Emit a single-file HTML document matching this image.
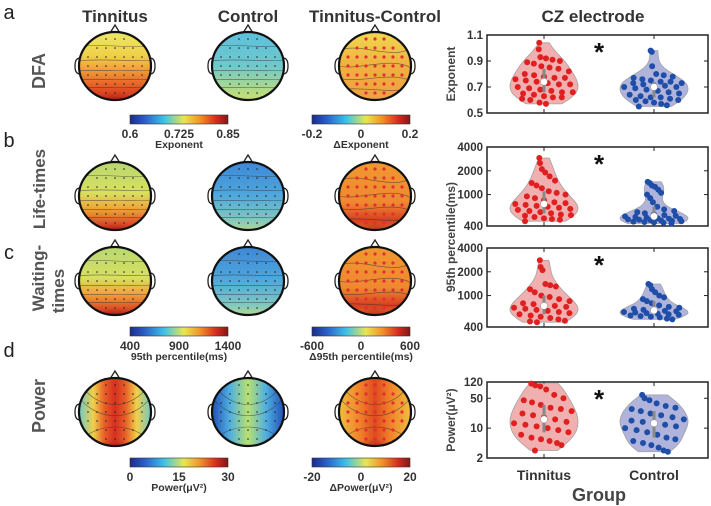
<!DOCTYPE html>
<html><head><meta charset="utf-8"><style>
body{margin:0;background:#fff;}
svg{display:block;font-family:"Liberation Sans",sans-serif;}
</style></head><body>
<svg id="fig" width="711" height="506" viewBox="0 0 711 506">
<defs>
<linearGradient id="cmap" x1="0" x2="1" y1="0" y2="0">
<stop offset="0" stop-color="#1c2a8a"/><stop offset="0.15" stop-color="#2a5fc8"/><stop offset="0.35" stop-color="#3ec2e8"/><stop offset="0.55" stop-color="#e8e650"/><stop offset="0.72" stop-color="#f09028"/><stop offset="0.88" stop-color="#d82a1e"/><stop offset="1" stop-color="#801818"/>
</linearGradient>
<linearGradient id="gAT" x1="0" y1="0" x2="0" y2="1"><stop offset="0" stop-color="#ece868"/><stop offset="0.35" stop-color="#f0d048"/><stop offset="0.55" stop-color="#f0a038"/><stop offset="0.75" stop-color="#e86828"/><stop offset="1" stop-color="#d02a1e"/></linearGradient>
<linearGradient id="gAC" x1="0" y1="0" x2="0" y2="1"><stop offset="0" stop-color="#5cc0dc"/><stop offset="0.5" stop-color="#70c8cc"/><stop offset="0.8" stop-color="#a8d890"/><stop offset="1" stop-color="#c8e070"/></linearGradient>
<linearGradient id="gAD" x1="0" y1="0" x2="0" y2="1"><stop offset="0" stop-color="#f0d850"/><stop offset="0.5" stop-color="#f0b040"/><stop offset="1" stop-color="#f0a040"/></linearGradient>
<linearGradient id="gBT" x1="0" y1="0" x2="0" y2="1"><stop offset="0" stop-color="#b8d870"/><stop offset="0.45" stop-color="#d8e060"/><stop offset="0.7" stop-color="#f0a038"/><stop offset="1" stop-color="#d02a1e"/></linearGradient>
<linearGradient id="gBC" x1="0" y1="0" x2="0" y2="1"><stop offset="0" stop-color="#3c88d8"/><stop offset="0.5" stop-color="#50a8dc"/><stop offset="0.85" stop-color="#80c8c0"/><stop offset="1" stop-color="#b0d890"/></linearGradient>
<linearGradient id="gBD" x1="0" y1="0" x2="0" y2="1"><stop offset="0" stop-color="#f09830"/><stop offset="0.6" stop-color="#f08830"/><stop offset="0.85" stop-color="#d84020"/><stop offset="1" stop-color="#e06028"/></linearGradient>
<linearGradient id="gDT" x1="0" y1="0" x2="1" y2="0"><stop offset="0" stop-color="#70c8c8"/><stop offset="0.2" stop-color="#f0d048"/><stop offset="0.35" stop-color="#e86028"/><stop offset="0.5" stop-color="#d43020"/><stop offset="0.65" stop-color="#e86028"/><stop offset="0.8" stop-color="#f0d048"/><stop offset="1" stop-color="#70c8c8"/></linearGradient>
<linearGradient id="gDC" x1="0" y1="0" x2="1" y2="0"><stop offset="0" stop-color="#2050b8"/><stop offset="0.25" stop-color="#50b0e0"/><stop offset="0.5" stop-color="#b8e070"/><stop offset="0.75" stop-color="#50b0e0"/><stop offset="1" stop-color="#2050b8"/></linearGradient>
<linearGradient id="gDD" x1="0" y1="0" x2="1" y2="0"><stop offset="0" stop-color="#f0c040"/><stop offset="0.3" stop-color="#f08028"/><stop offset="0.5" stop-color="#e04820"/><stop offset="0.7" stop-color="#f08028"/><stop offset="1" stop-color="#f0c040"/></linearGradient>
<radialGradient id="hotBottom" cx="0.5" cy="0.9" r="0.35"><stop offset="0" stop-color="#a01818" stop-opacity="0.6"/><stop offset="1" stop-color="#a01818" stop-opacity="0"/></radialGradient>
</defs>
<g id="topos"></g>
<g id="violins"></g>
</svg>
<script>
// ---- violin data ----
const groups = ["Tinnitus", "Control"];
const dfaTinnitus = [1.04,0.99,0.93,0.92,0.91,0.90,0.89,0.88,0.86,0.85,0.84,0.82,0.80,0.79,0.78,0.77,0.77,0.76,0.75,0.74,0.73,0.72,0.72,0.70,0.69,0.68,0.67,0.66,0.66,0.65,0.64,0.63,0.62,0.62,0.61,0.60,0.58,0.57];
const dfaControl = [0.98,0.97,0.86,0.80,0.79,0.78,0.77,0.76,0.75,0.74,0.74,0.73,0.73,0.72,0.71,0.71,0.70,0.70,0.69,0.68,0.67,0.66,0.65,0.64,0.63,0.62,0.62,0.61,0.60,0.60,0.59,0.58,0.57,0.56,0.55];
const lifeTinnitus = [2900,2500,2100,1900,1700,1500,1400,1300,1200,1100,1050,1000,950,900,850,800,780,760,740,720,700,680,660,640,620,600,580,560,550,540,520,500,490,480,460];
const lifeControl = [1450,1400,1300,1250,1150,1050,1000,900,800,700,650,620,600,580,560,550,540,530,520,510,500,495,490,485,480,475,470,465,460,455,450,445,440,430];
const waitTinnitus = [2800,2300,2100,1400,1350,1300,1200,1100,1000,960,900,850,800,780,760,740,720,700,680,660,640,620,600,580,560,540,520,500,480,470,460];
const waitControl = [1400,1350,1200,1100,1000,950,900,850,800,750,720,700,680,660,650,640,630,620,610,600,590,580,570,560,550,540,530,510,500];
const powTinnitus = [110,100,95,80,60,50,45,40,35,30,28,25,22,20,18,16,14,13,12,11,10,9,8,7,6,5.5,5,4.5,4,3];
const powControl = [60,50,45,38,33,30,28,25,22,20,18,16,15,14,13,12,11,10,9,8,7,6,5.5,5,4.5,4,3.5,3,2.8];
const ticks1 = [0.5,0.7,0.9,1.1];
const ticks2 = [400,1000,2000,4000];
const ticks4 = [2,10,50,120];

const NS="http://www.w3.org/2000/svg";
function mk(tag, attrs, parent, text){
  const e=document.createElementNS(NS,tag);
  for(const k in attrs) e.setAttribute(k,attrs[k]);
  if(text!==undefined) e.textContent=text;
  parent.appendChild(e); return e;
}
const svg=document.getElementById('fig');
const T=document.getElementById('topos');
const V=document.getElementById('violins');

function label(x,y,txt,size,name,opts){
  const t=mk('text',Object.assign({x:x,y:y,'font-size':size,'text-anchor':'middle',fill:'#333','font-weight':'bold'},opts||{}),svg,txt);
  
  
  return t;
}
label(115,22,"Tinnitus",17,'col-title-tinnitus');
label(248,22,"Control",17,'col-title-control');
label(375,22,"Tinnitus-Control",17,'col-title-diff');
label(593,22,"CZ electrode",17,'col-title-cz');
label(9,19,"a",20,'panel-a-label',{'font-weight':'normal',fill:'#222'});
label(9,147,"b",20,'panel-b-label',{'font-weight':'normal',fill:'#222'});
label(9,259,"c",20,'panel-c-label',{'font-weight':'normal',fill:'#222'});
label(9,357,"d",20,'panel-d-label',{'font-weight':'normal',fill:'#222'});
label(45,71,"DFA",18,'row-label-dfa',{transform:'rotate(-90 45 71)',fill:'#555'});
label(45,189,"Life-times",17,'row-label-lifetimes',{transform:'rotate(-90 45 189)',fill:'#555'});
label(44,278,"Waiting-",17,'row-label-waiting',{transform:'rotate(-90 44 278)',fill:'#555'});
label(64,291,"times",17,'row-label-times',{transform:'rotate(-90 64 291)',fill:'#555'});
label(45,406,"Power",18,'row-label-power',{transform:'rotate(-90 45 406)',fill:'#555'});

let clipId=0;
function topo(cx,cy,grad,name,redDots,hot,contours){
  const g=mk('g',{},T);
  
  
  const rx=36, ry=34;
  mk('path',{d:`M${cx-rx+1} ${cy-8} q-5 0 -5 8 q0 8 5 8`,fill:'none',stroke:'#222','stroke-width':1.3},g);
  mk('path',{d:`M${cx+rx-1} ${cy-8} q5 0 5 8 q0 8 -5 8`,fill:'none',stroke:'#222','stroke-width':1.3},g);
  mk('path',{d:`M${cx-5} ${cy-ry+1} L${cx} ${cy-ry-7} L${cx+5} ${cy-ry+1}`,fill:'none',stroke:'#222','stroke-width':1.3},g);
  const id='c'+(clipId++);
  const cp=mk('clipPath',{id:id},g); mk('ellipse',{cx:cx,cy:cy,rx:rx,ry:ry},cp);
  const inner=mk('g',{'clip-path':`url(#${id})`},g);
  mk('rect',{x:cx-rx,y:cy-ry,width:2*rx,height:2*ry,fill:`url(#${grad})`},inner);
  if(hot) mk('ellipse',{cx:cx,cy:cy+ry*0.75,rx:rx*0.8,ry:ry*0.35,fill:'url(#hotBottom)'},inner);
  contours.forEach(c=>{
    mk('path',{d:`M${cx-rx} ${cy+c[0]} C${cx-rx/2} ${cy+c[1]} ${cx+rx/2} ${cy+c[2]} ${cx+rx} ${cy+c[3]}`,fill:'none',stroke:'#333','stroke-width':0.6,opacity:0.7},inner);
  });
  for(let j=-3;j<=3;j++){for(let i=-3;i<=3;i++){
    const x=cx+i*9, y=cy+j*9;
    if(((x-cx)/rx)**2+((y-cy)/ry)**2>0.8) continue;
    mk('circle',{cx:x,cy:y,r:redDots?1.6:0.8,fill:redDots?'#e03030':'#222'},inner);
  }}
  mk('ellipse',{cx:cx,cy:cy,rx:rx,ry:ry,fill:'none',stroke:'#111','stroke-width':2.2},g);
}
const cA=[[-20,-22,-18,-20],[-5,-8,-4,-6],[5,3,6,4],[14,12,15,13],[22,20,23,21]];
const cD=[[-15,-25,-5,-18],[0,5,-10,2],[12,18,5,15],[24,20,28,22]];
topo(115,66,'gAT','topo-dfa-tinnitus',false,true,cA);
topo(248,66,'gAC','topo-dfa-control',false,false,cA);
topo(375,66,'gAD','topo-dfa-diff',true,false,cD);
topo(115,196,'gBT','topo-lifetimes-tinnitus',false,true,cA);
topo(248,196,'gBC','topo-lifetimes-control',false,false,cA);
topo(375,196,'gBD','topo-lifetimes-diff',true,true,cD);
topo(115,281,'gBT','topo-waiting-tinnitus',false,true,cA);
topo(248,281,'gBC','topo-waiting-control',false,false,cA);
topo(375,281,'gBD','topo-waiting-diff',true,true,cD);
const cP=[[-30,0,0,-30],[-15,10,10,-15],[30,10,10,30]];
topo(115,412,'gDT','topo-power-tinnitus',false,true,cP);
topo(248,412,'gDC','topo-power-control',false,false,cP);
topo(375,412,'gDD','topo-power-diff',true,true,cP);

function cbar(x,y,labels,title,name){
  const g=mk('g',{},T);
  
  
  mk('rect',{x:x,y:y,width:98,height:9,fill:'url(#cmap)',stroke:'#333','stroke-width':0.6},g);
  labels.forEach((l,i)=>{
    mk('text',{x:x+i*98/(labels.length-1),y:y+23,'font-size':12,'font-weight':'bold','text-anchor':'middle',fill:'#333'},g,l);
  });
  mk('text',{x:x+49,y:y+33,'font-size':10.5,'font-weight':'bold','text-anchor':'middle',fill:'#333'},g,title);
}
cbar(130,115,["0.6","0.725","0.85"],"Exponent",'colorbar-dfa');
cbar(312,115,["-0.2","0","0.2"],"ΔExponent",'colorbar-dfa-diff');
cbar(130,327,["400","900","1400"],"95th percentile(ms)",'colorbar-percentile');
cbar(312,327,["-600","0","600"],"Δ95th percentile(ms)",'colorbar-percentile-diff');
cbar(130,458,["0","15","30"],"Power(μV²)",'colorbar-power');
cbar(312,458,["-20","0","20"],"ΔPower(μV²)",'colorbar-power-diff');

const AX_L=487, AX_R=708, GX=[544,654];
function panel(top,bot,ticks,log,dataT,dataC,ytitle,tcy,name){
  const g=mk('g',{},V);
  
  
  const f=v=>log?Math.log10(v):v;
  const d0=f(ticks[0]), d1=f(ticks[ticks.length-1]);
  const y=v=>bot-(f(v)-d0)/(d1-d0)*(bot-top);
  mk('rect',{x:AX_L,y:top,width:AX_R-AX_L,height:bot-top,fill:'#fff',stroke:'#222','stroke-width':1.5},g);
  ticks.forEach(t=>{
    mk('line',{x1:AX_L,x2:AX_L+4,y1:y(t),y2:y(t),stroke:'#222'},g);
    mk('line',{x1:AX_R,x2:AX_R-4,y1:y(t),y2:y(t),stroke:'#222'},g);
    mk('text',{x:AX_L-4,y:y(t)+4,'font-size':11.5,'font-weight':'bold','text-anchor':'end',fill:'#333'},g,String(t));
  });
  GX.forEach(x=>{mk('line',{x1:x,x2:x,y1:top,y2:top+4,stroke:'#222'},g);mk('line',{x1:x,x2:x,y1:bot,y2:bot-4,stroke:'#222'},g);});
  if(ytitle) mk('text',{x:455,y:tcy,'font-size':12,'font-weight':'bold','text-anchor':'middle',fill:'#444',transform:`rotate(-90 455 ${tcy})`},g,ytitle);
  mk('text',{x:599,y:top+26,'font-size':26,'font-weight':'bold','text-anchor':'middle',fill:'#111'},g,'*');
  [[dataT,'#f0a8a8','#e02020',GX[0]],[dataC,'#a8acd8','#1f4ea8',GX[1]]].forEach(([data,fill,dot,cx])=>{
    const tv=data.map(f); const mn=Math.min(...tv), mx=Math.max(...tv);
    const bw=(mx-mn)*0.15; const N=40; const dens=[];
    for(let k=0;k<=N;k++){const v=mn+(mx-mn)*k/N;let s=0;tv.forEach(u=>{s+=Math.exp(-0.5*((v-u)/bw)**2);});dens.push([v,s]);}
    const md=Math.max(...dens.map(d=>d[1]));
    const yy=v=>bot-(v-d0)/(d1-d0)*(bot-top);
    let p='M'+dens.map(d=>`${cx+d[1]/md*34} ${yy(d[0])}`).join(' L');
    p+=' L'+dens.slice().reverse().map(d=>`${cx-d[1]/md*34} ${yy(d[0])}`).join(' L')+' Z';
    const vp=mk('path',{d:p,fill:fill,stroke:'#999','stroke-width':0.8,opacity:0.9},g);
    
    
    data.forEach((v,i)=>{
      const w=dens.reduce((a,d)=>Math.abs(d[0]-f(v))<Math.abs(a[0]-f(v))?d:a)[1]/md*30;
      const jit=((i*37)%17/16-0.5)*2*w;
      const c=mk('circle',{cx:cx+jit,cy:y(v),r:3,fill:dot},g);
      
      
    });
    const s=tv.slice().sort((a,b)=>a-b); const q=p=>s[Math.floor(p*(s.length-1))];
    mk('rect',{x:cx-1.5,y:yy(q(0.75)),width:3,height:yy(q(0.25))-yy(q(0.75)),fill:'#888'},g);
    mk('circle',{cx:cx,cy:yy(q(0.5)),r:3.5,fill:'#fff',stroke:'#888','stroke-width':0.5},g);
  });
}
panel(35,113,ticks1,false,dfaTinnitus,dfaControl,"Exponent",74,'violin-dfa');
panel(147,226,ticks2,true,lifeTinnitus,lifeControl,"95th percentile(ms)",237,'violin-lifetimes');
panel(248,327,ticks2,true,waitTinnitus,waitControl,"",0,'violin-waiting');
panel(382,458,ticks4,true,powTinnitus,powControl,"Power(μV²)",420,'violin-power');
groups.forEach((gname,i)=>{
  const t=mk('text',{x:GX[i],y:480,'font-size':14,'font-weight':'bold','text-anchor':'middle',fill:'#333'},V,gname);
  
  
});
const gx=mk('text',{x:599,y:501,'font-size':18,'font-weight':'bold','text-anchor':'middle',fill:'#444'},V,"Group");


</script>
</body></html>
